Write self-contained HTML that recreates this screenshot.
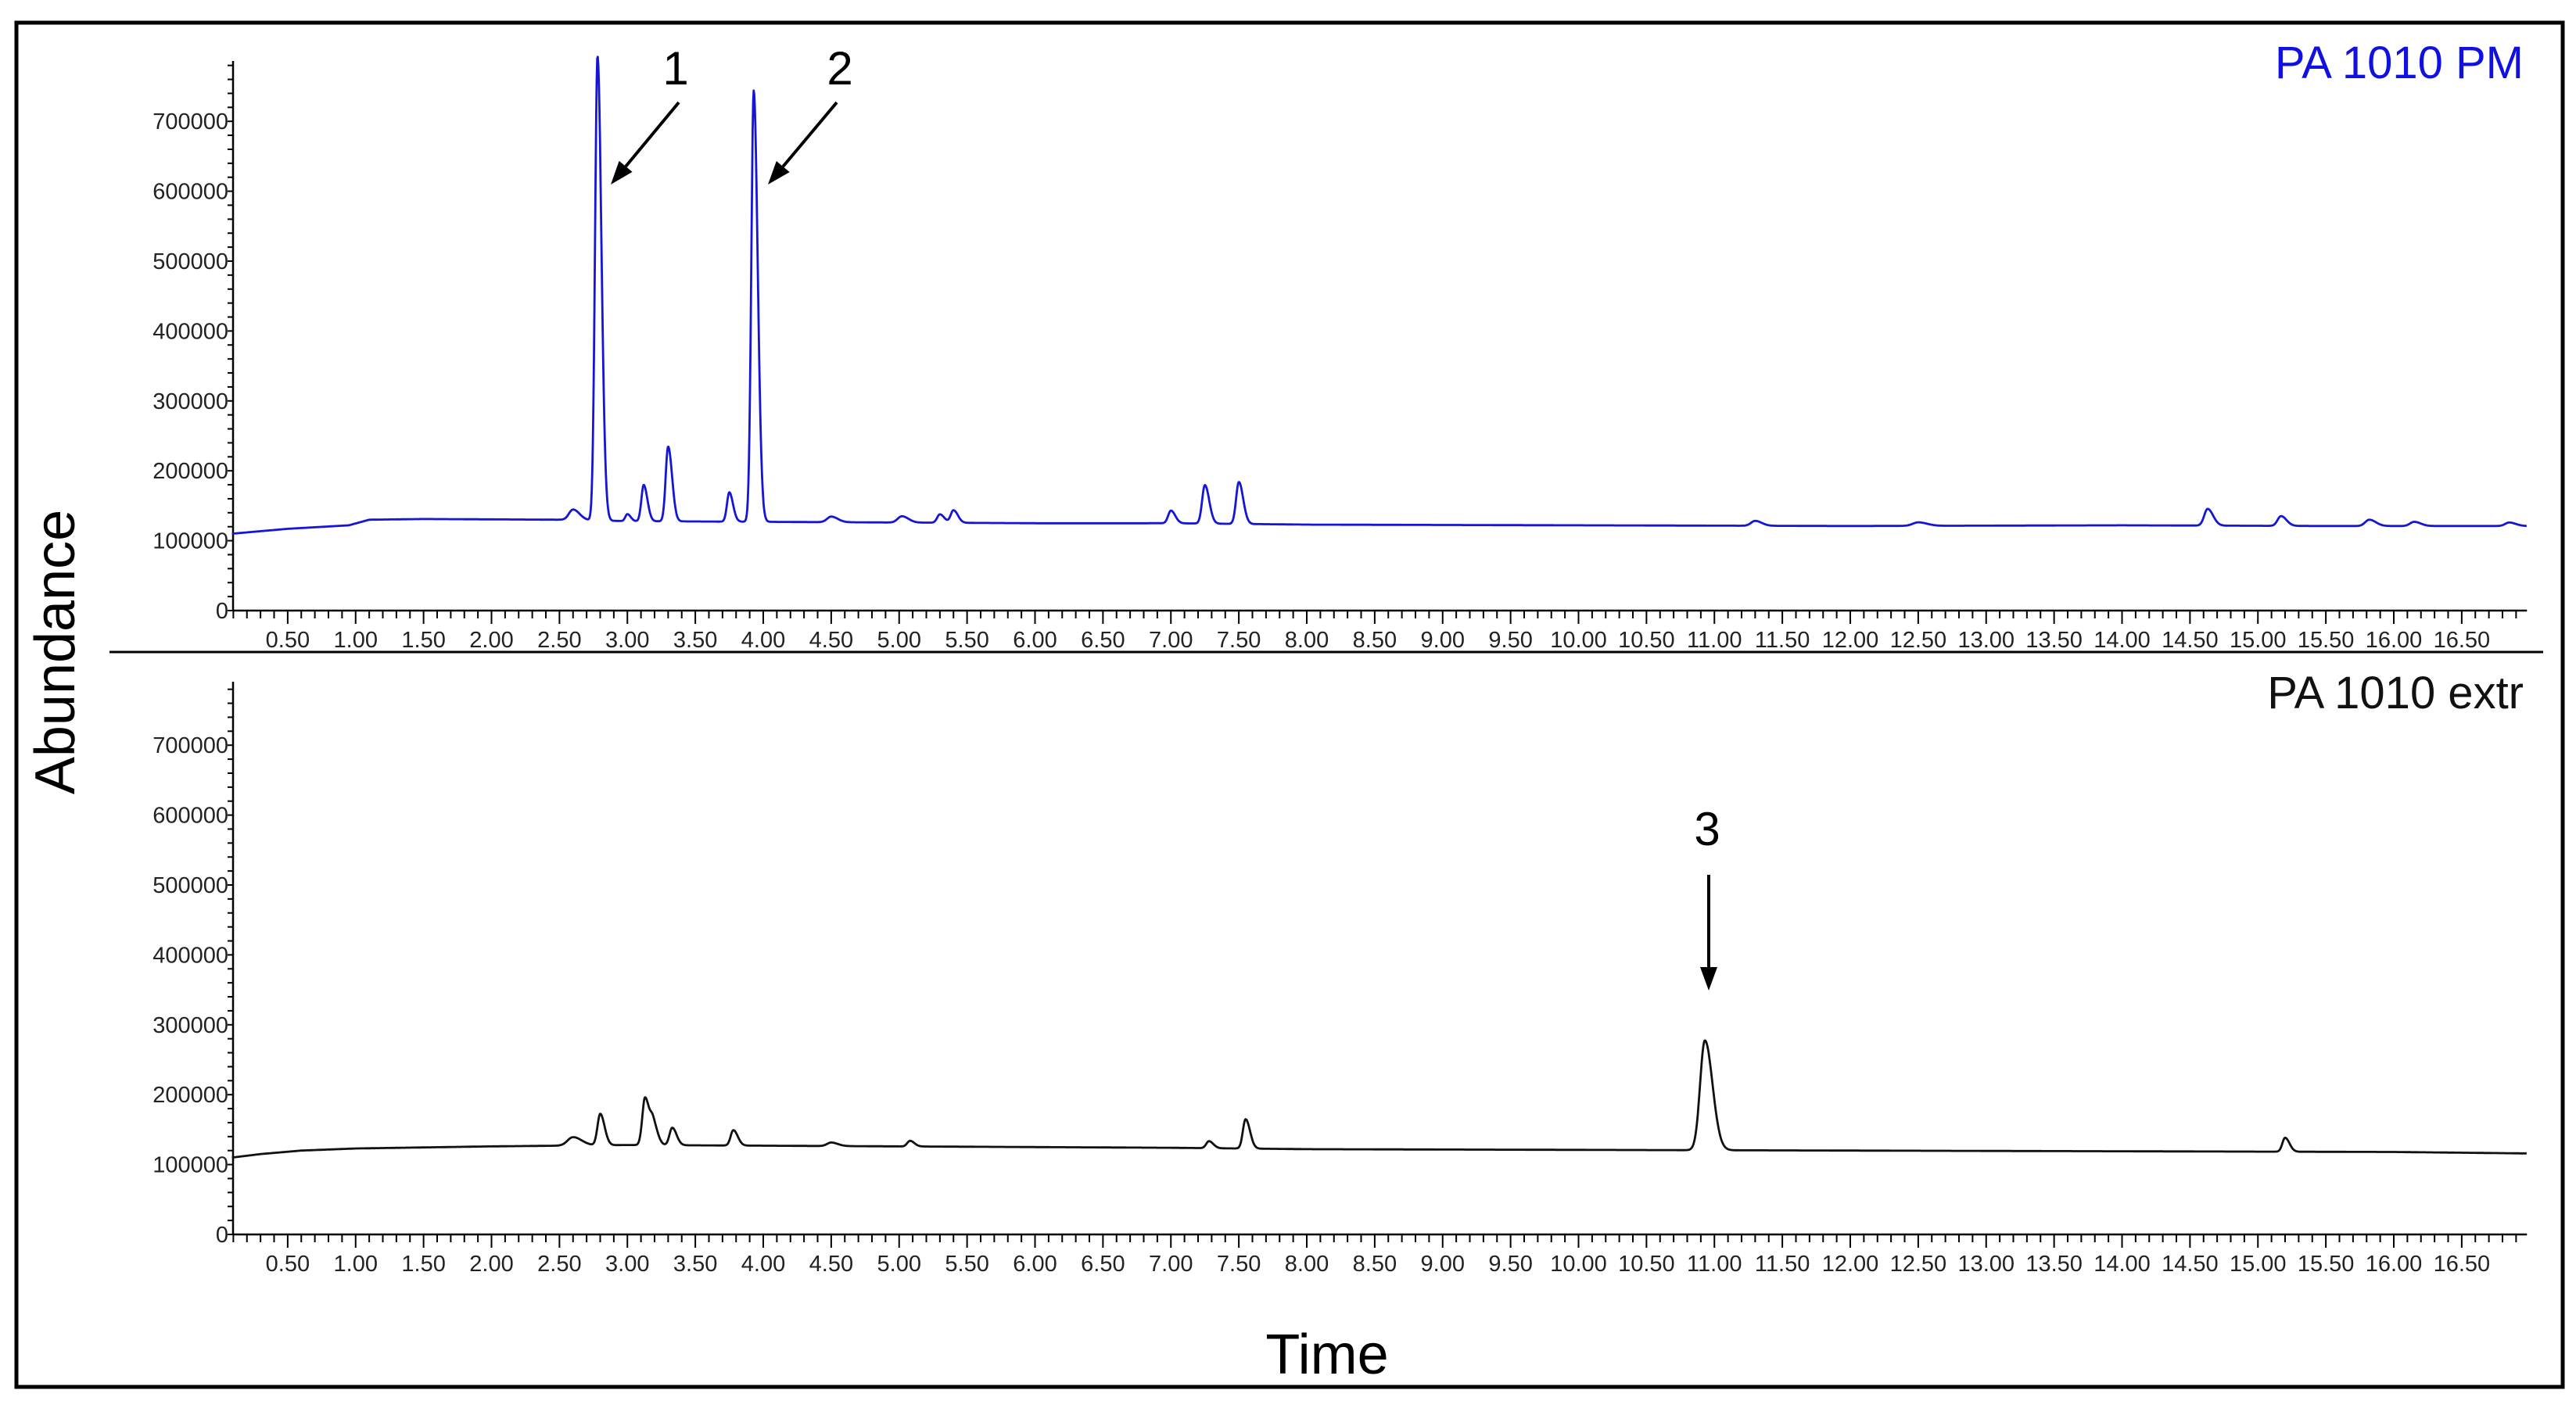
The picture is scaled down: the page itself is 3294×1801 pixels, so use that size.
<!DOCTYPE html>
<html><head><meta charset="utf-8"><style>
html,body{margin:0;padding:0;background:#fff;}
svg{display:block;font-family:"Liberation Sans",sans-serif;}
</style></head><body>
<svg id="chart" width="3294" height="1801" viewBox="0 0 3294 1801" xmlns="http://www.w3.org/2000/svg">
<rect x="21" y="29" width="3256" height="1745" fill="#fff" stroke="#000" stroke-width="5"/>
<line x1="140" y1="834" x2="3252" y2="834" stroke="#000" stroke-width="3"/>
<text x="0" y="0" transform="translate(95,834) rotate(-90)" text-anchor="middle" font-size="72" fill="#000">Abundance</text>
<text x="1697" y="1757" text-anchor="middle" font-size="72" fill="#000">Time</text>
<text x="3227" y="100" text-anchor="end" font-size="58" fill="#1010e0">PA 1010 PM</text>
<text x="3227" y="906" text-anchor="end" font-size="58" fill="#111">PA 1010 extr</text>
<g id="top"></g>
<g id="bot"></g>
<g id="ann"></g>
</svg>
<script>
// ---- data ----
const yTicks = [0,100000,200000,300000,400000,500000,600000,700000];
const xLabels = ["0.50","1.00","1.50","2.00","2.50","3.00","3.50","4.00","4.50","5.00","5.50","6.00","6.50","7.00","7.50","8.00","8.50","9.00","9.50","10.00","10.50","11.00","11.50","12.00","12.50","13.00","13.50","14.00","14.50","15.00","15.50","16.00","16.50"];
// baseline knots (time, abundance)
const pmBaseT = [0.09,0.5,0.95,1.1,1.5,2.5,3.0,4.0,5.0,6.0,7.0,8.0,10.0,12.0,14.0,15.5,16.95];
const pmBaseV = [110000,117000,122000,130000,131000,130000,128000,127000,126000,125000,125000,123000,122000,121000,122000,121000,121000];
const pmPeakT = [2.60,2.78,3.00,3.12,3.30,3.75,3.93,4.50,5.02,5.30,5.40,7.00,7.25,7.50,11.30,12.50,14.63,15.17,15.82,16.15,16.85];
const pmPeakV = [15000,665000,10000,52000,107000,42000,617000,8000,9000,12000,18000,18000,55000,60000,7000,5000,24000,14000,9000,6000,5000];
const exBaseT = [0.09,0.3,0.6,1.0,2.0,2.5,3.0,4.0,5.0,6.0,7.0,8.0,10.0,12.0,14.0,16.0,16.95];
const exBaseV = [110000,115000,120000,123000,126000,127000,128000,127000,126000,125000,124000,122000,121000,120000,119000,118000,116000];
const exPeakT = [2.60,2.80,3.13,3.19,3.33,3.78,4.50,5.08,7.28,7.55,10.93,15.20];
const exPeakV = [12000,45000,68000,30000,25000,22000,5000,8000,10000,42000,157000,20000];
const exPeakW = [0.04,0.02,0.02,0.02,0.02,0.02,0.03,0.02,0.02,0.02,0.035,0.02];
const pmPeakW = [0.03,0.018,0.015,0.017,0.018,0.017,0.018,0.03,0.03,0.02,0.02,0.02,0.02,0.02,0.03,0.04,0.025,0.025,0.03,0.03,0.03];

// ---- scales ----
const X0 = 281, XS = 173.75, TMIN = 0.09, TMAX = 16.98;
const xs = t => X0 + t*XS;
const panels = [
  {g:'top', zero:781, top:78, color:'#1515d8', bT:pmBaseT, bV:pmBaseV, pT:pmPeakT, pV:pmPeakV, pW:pmPeakW, name:'pm-trace'},
  {g:'bot', zero:1579, top:872, color:'#111', bT:exBaseT, bV:exBaseV, pT:exPeakT, pV:exPeakV, pW:exPeakW, name:'extr-trace'}
];
const NS = 'http://www.w3.org/2000/svg';
function mk(tag, attrs, parent){ const e=document.createElementNS(NS,tag); for(const k in attrs) e.setAttribute(k,attrs[k]); parent.appendChild(e); return e; }
function interp(T,V,t){ if(t<=T[0]) return V[0]; for(let i=1;i<T.length;i++){ if(t<=T[i]){const f=(t-T[i-1])/(T[i]-T[i-1]); return V[i-1]+f*(V[i]-V[i-1]);} } return V[V.length-1]; }

panels.forEach(p=>{
  const g = document.getElementById(p.g);
  const ys = v => p.zero - v*89.4/100000;
  // y axis
  const ya = mk('line',{x1:X0+17,y1:p.top,x2:X0+17,y2:p.zero,stroke:'#000','stroke-width':2.5},g);
  
  
  for(let v=0; v<=780000; v+=20000){
    const tk = mk('line',{x1:X0+10,y1:ys(v),x2:X0+17,y2:ys(v),stroke:'#000','stroke-width':2},g);
    
    
  }
  yTicks.forEach(v=>{
    const tx = mk('text',{x:X0+11,y:ys(v)+10,'text-anchor':'end','font-size':29,fill:'#222'},g);
    tx.textContent = String(v);
    
    
  });
  // x axis
  const xa = mk('line',{x1:X0+17,y1:p.zero,x2:xs(TMAX),y2:p.zero,stroke:'#000','stroke-width':2.5},g);
  
  
  for(let i=1;i<=169;i++){
    const t=i/10, major=(i%5===0);
    const tk = mk('line',{x1:xs(t),y1:p.zero,x2:xs(t),y2:p.zero+(major?17:10),stroke:'#000','stroke-width':2},g);
    
    
  }
  xLabels.forEach(l=>{
    const tx = mk('text',{x:xs(parseFloat(l)),y:p.zero+47,'text-anchor':'middle','font-size':29,fill:'#222'},g);
    tx.textContent = l;
    
    
  });
  // trace
  let d='';
  for(let t=TMIN; t<=TMAX; t+=0.004){
    let v = interp(p.bT,p.bV,t);
    for(let k=0;k<p.pT.length;k++){
      const dt=t-p.pT[k], s=p.pW[k]*(dt>0?1.6:1);
      v += p.pV[k]*Math.exp(-dt*dt/(2*s*s));
    }
    d += (d?'L':'M')+xs(t).toFixed(1)+','+ys(v).toFixed(1);
  }
  const path = mk('path',{d:d,fill:'none',stroke:p.color,'stroke-width':2.8,'stroke-linejoin':'round'},g);
  
  
});

// annotations
const ann = document.getElementById('ann');
function arrow(x1,y1,x2,y2,name){
  const ang=Math.atan2(y2-y1,x2-x1), L=30, W=11;
  const bx=x2-L*Math.cos(ang), by=y2-L*Math.sin(ang);
  const ln = mk('line',{x1:x1,y1:y1,x2:bx,y2:by,stroke:'#000','stroke-width':4},ann);
  
  
  const px=-Math.sin(ang)*W, py=Math.cos(ang)*W;
  const hd = mk('polygon',{points:`${x2},${y2} ${bx+px},${by+py} ${bx-px},${by-py}`,fill:'#000'},ann);
  
  
}
function label(x,y,s,name){
  const t = mk('text',{x:x,y:y,'text-anchor':'middle','font-size':60,fill:'#000'},ann);
  t.textContent=s;
  
  
}
label(864,108,'1','peak-label-1');
label(1074,108,'2','peak-label-2');
label(2183,1081,'3','peak-label-3');
arrow(868,131,781,236,'peak-arrow-1');
arrow(1070,131,982,236,'peak-arrow-2');
arrow(2185,1119,2185,1267,'peak-arrow-3');
</script>
</body></html>
